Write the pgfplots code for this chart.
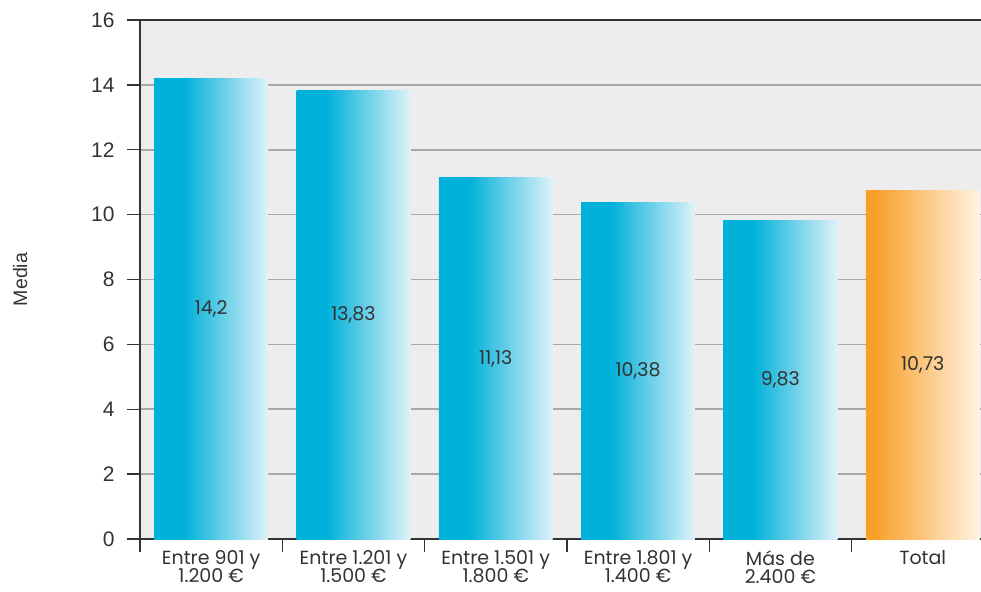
\documentclass[border=0pt]{standalone}
\usepackage{pgfplots}
\pgfplotsset{compat=1.18}
\usepackage{fontspec}
\setmainfont{Liberation Sans}
\newfontfamily\catfont{Poppins}
\usetikzlibrary{calc}

\definecolor{barcyan}{HTML}{00B1D9}
\definecolor{barcyanlight}{HTML}{DFF2F9}
\definecolor{barorange}{HTML}{F9A029}
\definecolor{barorangelight}{HTML}{FFF3E3}
\definecolor{plotbg}{HTML}{EDEDED}
\definecolor{gridgray}{HTML}{A8A8A8}
\definecolor{axisdark}{HTML}{333333}
\definecolor{textdark}{HTML}{333333}

% left part solid, then fading towards the right edge of each bar
\pgfdeclarehorizontalshading{cyanfade}{100bp}{color(0bp)=(barcyan); color(25bp)=(barcyan); color(38bp)=(barcyan); color(75bp)=(barcyanlight); color(100bp)=(barcyanlight)}
\pgfdeclarehorizontalshading{orangefade}{100bp}{color(0bp)=(barorange); color(25bp)=(barorange); color(29bp)=(barorange); color(75bp)=(barorangelight); color(100bp)=(barorangelight)}

\pgfplotsset{
  fadebar/.style={ybar, bar width=0.8, draw=none, shading=#1},
}

\begin{document}
\begin{tikzpicture}
\begin{axis}[
  name=ax,
  scale only axis,
  width=846pt, height=519pt,
  xmin=-0.5, xmax=5.445,
  ymin=0, ymax=16,
  ytick={0,2,4,6,8,10,12,14,16},
  xtick={-0.5,0.5,1.5,2.5,3.5,4.5},
  xticklabels={},
  extra x ticks={0,1,2,3,4,5},
  extra x tick labels={{Entre 901 y\\1.200 €},{Entre 1.201 y\\1.500 €},{Entre 1.501 y\\1.800 €},{Entre 1.801 y\\1.400 €},{Más de\\2.400 €},{Total}},
  extra x tick style={major tick length=0pt, xmajorgrids=false},
  xticklabel style={font={\catfont\fontsize{19}{18}\selectfont\lineskiplimit=-30pt}, text=textdark, align=center, anchor=north, yshift=-11pt, inner sep=0.5pt},
  yticklabel style={font=\fontsize{21}{22}\selectfont, text=textdark, xshift=-9pt},
  /pgf/number format/assume math mode=true,
  tick align=outside,
  xtick pos=left, ytick pos=left,
  major tick length=13pt,
  ymajorgrids,
  grid style={gridgray, line width=1.6pt},
  axis line style={axisdark, line width=1.6pt},
  tick style={axisdark, line width=1.4pt},
  axis background/.style={fill=plotbg},
  ylabel={Media},
  every axis y label/.style={at={(axis description cs:-0.1418,0.5)}, rotate=90, anchor=center, font=\fontsize{19.5}{20}\selectfont, text=textdark},
  point meta=y,
  visualization depends on=y \as \rawy,
  nodes near coords={\pgfmathprintnumber[use comma,precision=2]{\pgfplotspointmeta}},
  every node near coord/.append style={anchor=center, shift={(axis direction cs:0,-\rawy/2)}, font=\catfont\fontsize{19}{19}\selectfont, text=textdark},
]
% one plot per bar so that every bar gets its own gradient
\addplot[fadebar=cyanfade] coordinates {(0,14.2)};
\addplot[fadebar=cyanfade] coordinates {(1,13.83)};
\addplot[fadebar=cyanfade] coordinates {(2,11.13)};
\addplot[fadebar=cyanfade] coordinates {(3,10.38)};
\addplot[fadebar=cyanfade] coordinates {(4,9.83)};
\addplot[fadebar=orangefade] coordinates {(5,10.73)};
\end{axis}
\pgfresetboundingbox
\path[use as bounding box] ($(ax.south west)+(-140pt,-52pt)$) rectangle ($(ax.north west)+(841pt,20pt)$);
\end{tikzpicture}
\end{document}
